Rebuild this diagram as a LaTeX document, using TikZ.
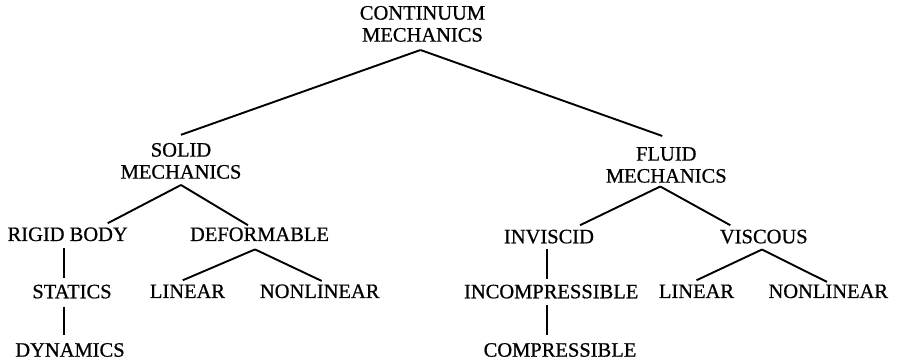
\documentclass[tikz,border=0pt]{standalone}
\usepackage{fontspec}
\setmainfont{Liberation Serif}
\newfontfamily\heavyfont{Liberation Serif}[FakeBold=0.7]
\begin{document}
\begin{tikzpicture}[x=1pt,y=-1pt,
  lbl/.style={font=\heavyfont\fontsize{20.5}{22}\selectfont, align=center, inner xsep=0pt, inner ysep=8pt},
  edge/.style={line width=1.9pt}]
\useasboundingbox (0,0) rectangle (897,363);
% nodes
\node[lbl,anchor=south] (cm) at (422.5,50) {CONTINUUM\\MECHANICS};
\node[lbl,anchor=south] (sm) at (181,187) {SOLID\\MECHANICS};
\node[lbl,anchor=south] (fm) at (666.3,191) {FLUID\\MECHANICS};
\node[lbl,anchor=base] (rb) at (67.7,241) {RIGID BODY};
\node[lbl,anchor=base] (df) at (259.5,241) {DEFORMABLE};
\node[lbl,anchor=base] (st) at (72,298.3) {STATICS};
\node[lbl,anchor=base] (dy) at (70,356.7) {DYNAMICS};
\node[lbl,anchor=base] (l1) at (187.5,298) {LINEAR};
\node[lbl,anchor=base] (n1) at (319.7,298) {NONLINEAR};
\node[lbl,anchor=base] (iv) at (549,243.3) {INVISCID};
\node[lbl,anchor=base] (vs) at (763.8,243.3) {VISCOUS};
\node[lbl,anchor=base] (ic) at (551.2,298.3) {INCOMPRESSIBLE};
\node[lbl,anchor=base] (co) at (560,356.7) {COMPRESSIBLE};
\node[lbl,anchor=base] (l2) at (696.5,298) {LINEAR};
\node[lbl,anchor=base] (n2) at (828.3,298) {NONLINEAR};
% connectors
\draw[edge] ([xshift=-2pt]cm.south) -- (sm.north);
\draw[edge] ([xshift=-2pt]cm.south) -- ([xshift=-4pt,yshift=3pt]fm.north);
\draw[edge] ([yshift=2pt]sm.south) -- ([xshift=40pt,yshift=-4pt]rb.north);
\draw[edge] ([yshift=2pt]sm.south) -- ([xshift=-11.5pt,yshift=-6pt]df.north);
\draw[edge] ([xshift=-3.4pt,yshift=1.3pt]rb.south) -- ([xshift=-7.7pt,yshift=-1.4pt]st.north);
\draw[edge] ([xshift=-7.7pt]st.south) -- ([xshift=-5.7pt]dy.north);
\draw[edge] ([xshift=-4.5pt]df.south) -- ([xshift=-4.8pt,yshift=-4pt]l1.north);
\draw[edge] ([xshift=-4.5pt]df.south) -- ([xshift=2pt,yshift=-4.7pt]n1.north);
\draw[edge] ([xshift=-6pt,yshift=4.5pt]fm.south) -- ([xshift=31pt,yshift=-3.7pt]iv.north);
\draw[edge] ([xshift=-6pt,yshift=4.5pt]fm.south) -- ([xshift=-33.5pt,yshift=-3.7pt]vs.north);
\draw[edge] ([xshift=-2pt,yshift=3pt]iv.south) -- ([xshift=-4.2pt,yshift=-2pt]ic.north);
\draw[edge] ([xshift=-4.2pt,yshift=1.3pt]ic.south) -- ([xshift=-13pt]co.north);
\draw[edge] ([xshift=-1.8pt,yshift=2.3pt]vs.south) -- ([yshift=-4pt]l2.north);
\draw[edge] ([xshift=-1.8pt,yshift=2.3pt]vs.south) -- ([xshift=-1.3pt,yshift=-5.7pt]n2.north);
\end{tikzpicture}
\end{document}
